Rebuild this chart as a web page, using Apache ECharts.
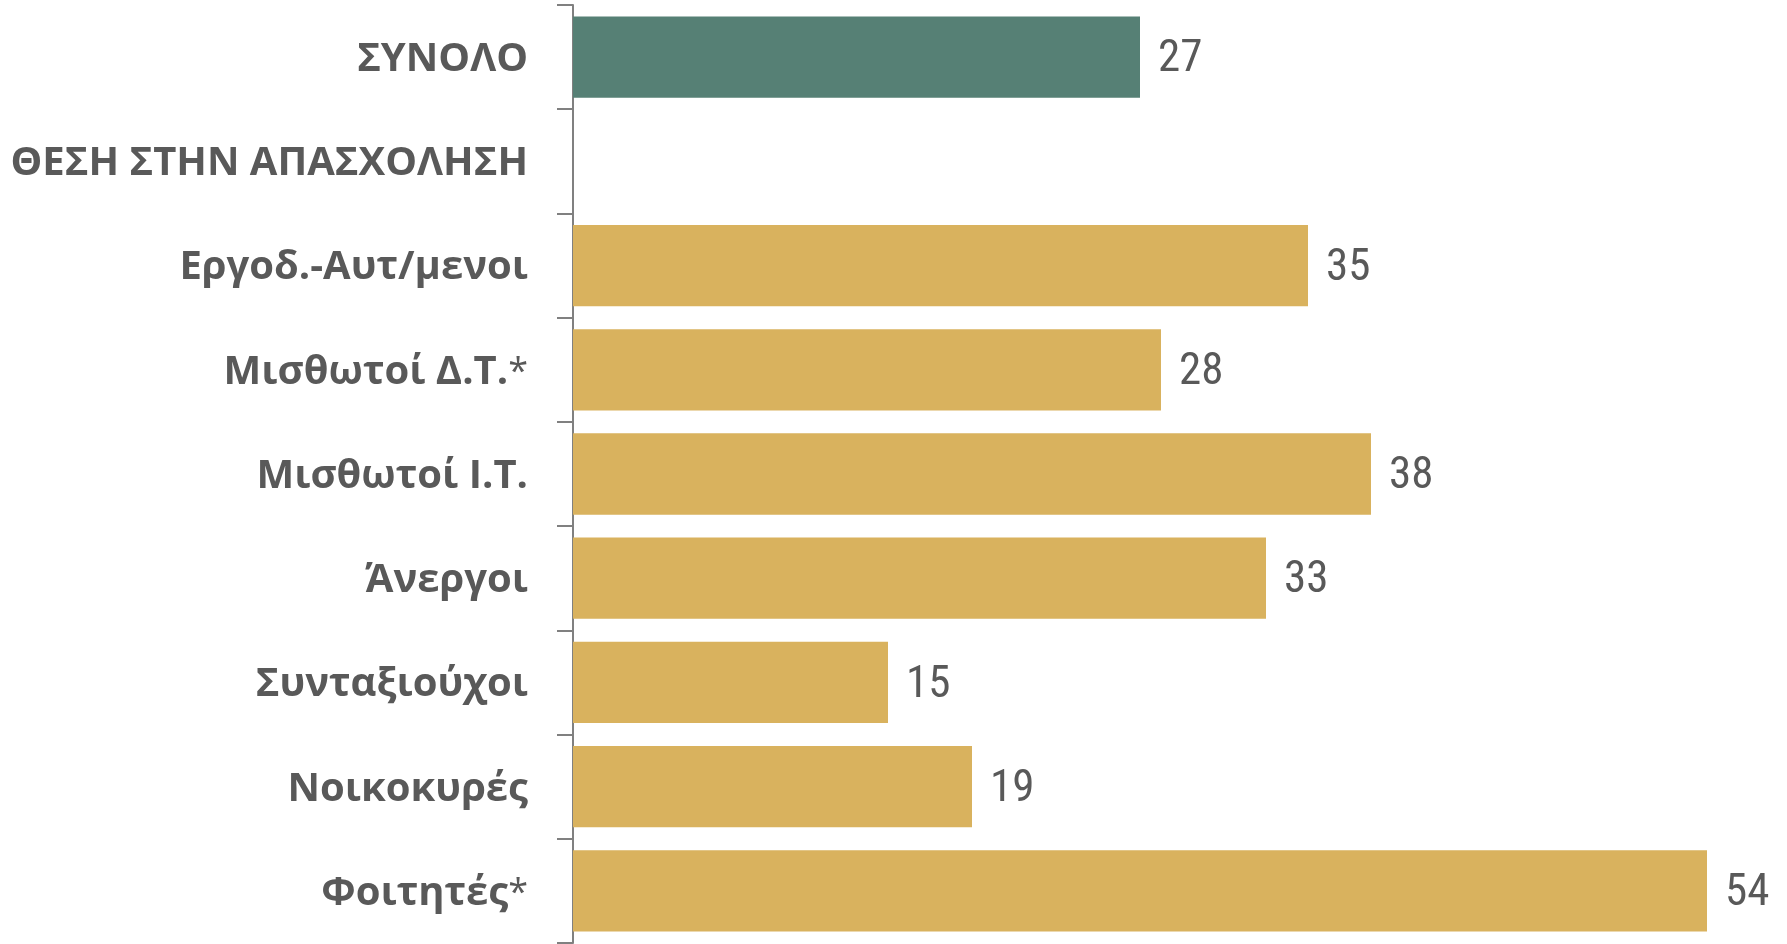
<!DOCTYPE html>
<html>
<head>
<meta charset="utf-8">
<script src="https://cdn.jsdelivr.net/npm/echarts@6/dist/echarts.min.js"></script>
<style>
  html, body { margin: 0; padding: 0; background: #fff; }
  #main { width: 1787px; height: 944px; }
</style>
</head>
<body>
<div id="main"></div>
<script>
// κατηγορίες και τιμές (%)
var categories = ['ΣΥΝΟΛΟ', 'ΘΕΣΗ ΣΤΗΝ ΑΠΑΣΧΟΛΗΣΗ', 'Εργοδ.-Αυτ/μενοι', 'Μισθωτοί Δ.Τ.*',
    'Μισθωτοί Ι.Τ.', 'Άνεργοι', 'Συνταξιούχοι', 'Νοικοκυρές', 'Φοιτητές*'];
var values = [27, null, 35, 28, 38, 33, 15, 19, 54];
var totalIndex = 0;

var chart = echarts.init(document.getElementById('main'));

var barData = values.map(function (v, i) {
    return {
        value: v,
        itemStyle: { color: i === totalIndex ? '#568075' : '#D9B25E' }
    };
});

chart.setOption({
    animation: false,
    grid: { left: 573, right: 80, top: 5, bottom: 1, containLabel: false },
    xAxis: {
        type: 'value',
        min: 0,
        max: 54,
        show: false
    },
    yAxis: {
        type: 'category',
        inverse: true,
        data: categories,
        axisLine: { show: true, lineStyle: { color: '#808080', width: 2 } },
        axisTick: { show: true, length: 16, lineStyle: { color: '#808080', width: 2 } },
        axisLabel: {
            margin: 45,
            padding: [5, 0, 0, 0],
            fontFamily: 'Open Sans',
            fontWeight: 'bold',
            fontSize: 40,
            color: '#595959',
            formatter: function (val) {
                if (val.slice(-1) === '*') {
                    return val.slice(0, -1) + '{l|*}';
                }
                return val;
            },
            rich: {
                l: { fontFamily: 'Open Sans', fontWeight: 'normal', fontSize: 36, color: '#595959' }
            }
        }
    },
    series: [{
        type: 'bar',
        data: barData,
        barCategoryGap: '22%',
        label: {
            show: true,
            position: 'right',
            distance: 18,
            offset: [0, 3],
            fontFamily: '"Roboto Condensed", "DejaVu Sans Condensed", "Liberation Sans Narrow", Roboto, sans-serif',
            fontWeight: 'normal',
            fontSize: 45,
            color: '#595959'
        }
    }]
});
</script>
</body>
</html>
